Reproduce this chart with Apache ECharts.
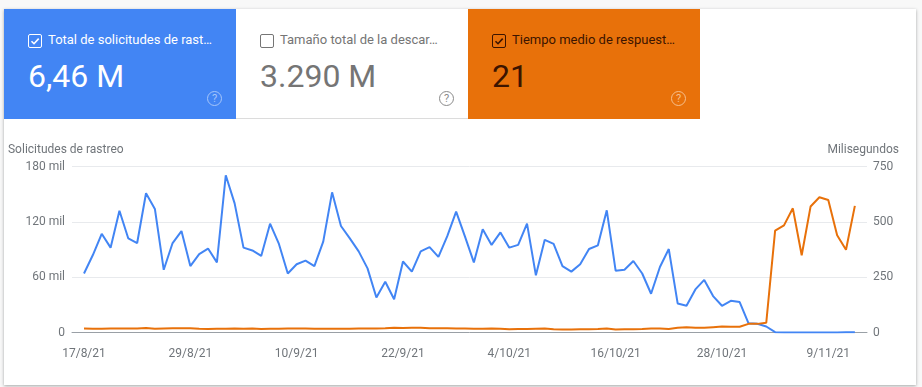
<!DOCTYPE html>
<html>
<head>
<meta charset="utf-8">
<script src="https://cdn.jsdelivr.net/npm/echarts@6/dist/echarts.min.js"></script>
<style>
    html, body { margin: 0; padding: 0; width: 922px; height: 387px; overflow: hidden; background: #f8f8f8; font-family: Roboto, sans-serif; }
    #panel { position: absolute; left: 4px; top: 9px; width: 912px; height: 376px; background: #fff; box-shadow: 0 1px 3px rgba(60, 64, 67, .45); }
    #main { position: absolute; left: 0; top: 0; width: 922px; height: 387px; }
    .card { position: absolute; top: 9px; width: 232px; height: 110px; box-sizing: border-box; }
    .card .box { position: absolute; left: 24px; top: 25px; width: 12px; height: 12px; border: 1px solid; border-radius: 2px; }
    .card .box svg { position: absolute; left: 0; top: 0; }
    .card .title { position: absolute; left: 44px; top: 23px; font-size: 13px; line-height: 16px; white-space: nowrap; }
    .card .num { position: absolute; left: 24px; top: 48px; font-size: 32px; line-height: 38px; white-space: nowrap; }
    .card .help { position: absolute; left: 203px; top: 82px; width: 13px; height: 13px; border: 1.5px solid; border-radius: 50%; font-size: 11px; line-height: 13px; text-align: center; }
</style>
</head>
<body>
<div id="panel"></div>
<div id="main"></div>
<div id="cards"></div>
<script>
// tarjetas de arriba
const cardTitles = ['Total de solicitudes de rast…', 'Tamaño total de la descar…', 'Tiempo medio de respuest…'];
const cardValues = ['6,46 M', '3.290 M', '21'];
const cardChecked = [true, false, true];
const cardBg = ['#4285f4', '#ffffff', '#e8710a'];
const cardText = ['#ffffff', '#757575', '#3c1400'];
const cardHelp = ['#a6c6fa', '#8a8a8a', '#f6c08e'];

// ejes
const xTickIndex = [0, 12, 24, 36, 48, 60, 72, 84];
const xTickLabels = ['17/8/21', '29/8/21', '10/9/21', '22/9/21', '4/10/21', '16/10/21', '28/10/21', '9/11/21'];

// solicitudes de rastreo, un valor por dia desde 17/8/21
const solicitudes = [
    64000, 84000, 107000, 92000, 132000, 102000, 97000, 151000, 134000, 68000,
    97000, 110000, 72000, 85000, 91000, 76000, 170500, 140000, 92000, 89000,
    83000, 118000, 96000, 64000, 74000, 78000, 72000, 98500, 152000, 115500,
    102000, 88000, 69500, 38000, 55000, 36000, 77000, 66000, 88000, 92500,
    82000, 104500, 131000, 104000, 76000, 112000, 95000, 108500, 92000, 95000,
    118000, 62000, 100500, 96000, 72000, 66000, 74000, 90500, 94500, 132500,
    67000, 68000, 77500, 64000, 42000, 71000, 90500, 31500, 29000, 46700,
    57000, 39500, 29000, 34400, 33000, 10000, 9400, 6500, 400, 100,
    100, 100, 100, 100, 100, 100, 400, 200
];

// tiempo medio de respuesta (ms)
const tiempoMedio = [
    18, 17, 17, 18, 18, 18, 18, 20, 17, 18,
    19, 19, 19, 17, 16, 17, 17, 18, 17, 18,
    16, 17, 17, 18, 18, 18, 17, 17, 17, 17,
    17, 18, 18, 18, 19, 22, 20, 21, 21, 19,
    19, 19, 18, 18, 17, 17, 18, 17, 15, 16,
    16, 17, 18, 15, 14, 14, 15, 15, 16, 18,
    14, 15, 15, 16, 18, 18, 16, 21, 24, 22,
    21, 24, 27, 26, 26, 39, 39, 44, 460, 484,
    561, 349, 569, 611, 599, 439, 374, 572
];

document.getElementById('cards').innerHTML = cardTitles.map((t, i) => `
    <div class="card" style="left:${4 + i * 232}px;background:${cardBg[i]};color:${cardText[i]};${i == 1 ? 'border-bottom:1px solid #dcdcdc;' : ''}">
        <div class="box">${cardChecked[i] ? `<svg width="12" height="12"><polyline points="2.5,6.2 5,8.7 9.7,3.6" fill="none" stroke="${cardText[i]}" stroke-width="1.6"/></svg>` : ''}</div>
        <div class="title">${t}</div>
        <div class="num">${cardValues[i]}</div>
        <div class="help" style="color:${cardHelp[i]}">?</div>
    </div>`).join('');

const myChart = echarts.init(document.getElementById('main'), null, { renderer: 'canvas' });

const labelColor = '#70757a';

const option = {
    animation: false,
    backgroundColor: 'transparent',
    textStyle: { fontFamily: 'Roboto' },
    grid: { left: 72, right: 55, top: 166.5, height: 166 },
    xAxis: {
        type: 'value',
        min: -1.354,
        max: 88.37,
        splitLine: { show: false },
        axisLine: { onZero: false, lineStyle: { color: '#9aa0a6', width: 1 } },
        axisTick: { show: false },
        axisLabel: {
            customValues: xTickIndex,
            color: labelColor,
            fontSize: 12,
            margin: 15,
            formatter: function (value) {
                return xTickLabels[xTickIndex.indexOf(value)];
            }
        }
    },
    yAxis: [
        {
            type: 'value',
            min: 0,
            max: 180000,
            interval: 60000,
            name: 'Solicitudes de rastreo',
            nameGap: 11,
            nameTextStyle: { color: labelColor, fontSize: 12, align: 'left', padding: [0, 0, 0, -76] },
            axisLine: { show: false },
            axisTick: { show: false },
            splitLine: { lineStyle: { color: '#e8eaed' } },
            axisLabel: {
                color: labelColor,
                fontSize: 12,
                margin: 7,
                formatter: function (value) {
                    return value == 0 ? '0' : (value / 1000) + ' mil';
                }
            }
        },
        {
            type: 'value',
            min: 0,
            max: 750,
            interval: 250,
            name: 'Milisegundos',
            nameGap: 11,
            nameTextStyle: { color: labelColor, fontSize: 12, align: 'right', padding: [0, -32, 0, 0] },
            axisLine: { show: false },
            axisTick: { show: false },
            splitLine: { show: false },
            axisLabel: { color: labelColor, fontSize: 12, margin: 6 }
        }
    ],
    series: [
        {
            name: 'Solicitudes de rastreo',
            type: 'line',
            yAxisIndex: 0,
            symbol: 'none',
            lineStyle: { color: '#4285f4', width: 2 },
            data: solicitudes.map((v, i) => [i, v])
        },
        {
            name: 'Tiempo medio de respuesta',
            type: 'line',
            yAxisIndex: 1,
            symbol: 'none',
            lineStyle: { color: '#e8710a', width: 2 },
            data: tiempoMedio.map((v, i) => [i, v])
        }
    ]
};

myChart.setOption(option);
</script>
</body>
</html>
